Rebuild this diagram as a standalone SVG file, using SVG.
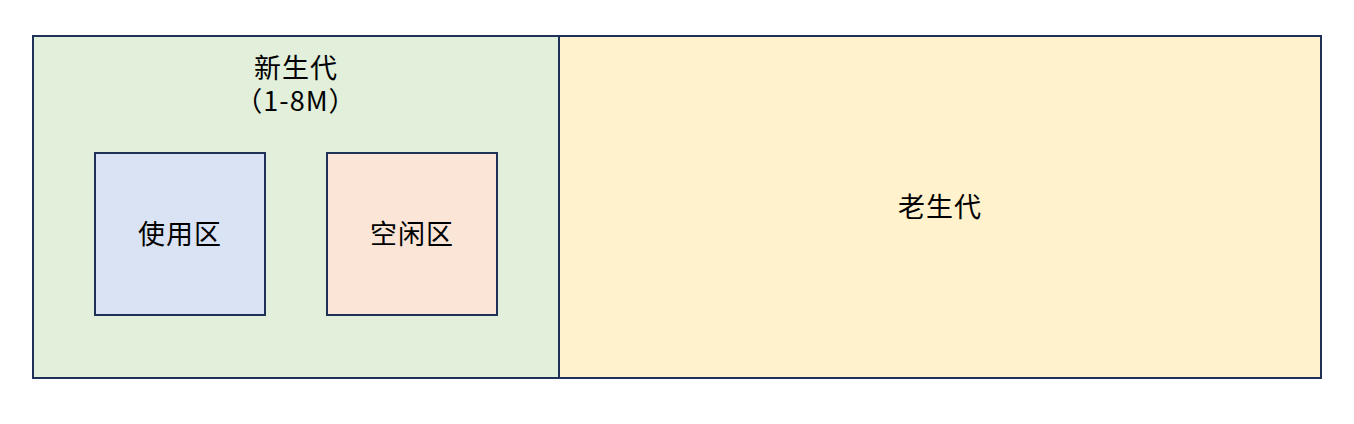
<svg xmlns="http://www.w3.org/2000/svg" width="1354" height="424" viewBox="0 0 1354 424">
<style>
.b{stroke:#1f3157;stroke-width:2}
.t{font-family:"Noto Sans CJK SC","Noto Sans",sans-serif;font-size:27px;fill:#000;text-anchor:middle;letter-spacing:1px}
</style>
<rect width="1354" height="424" fill="#fff"/>
<g id="young">
<rect class="b" x="33" y="36" width="526" height="342" fill="#e2efda"/>
<text class="t" x="296" y="78"><tspan x="296">新生代</tspan><tspan x="296" dy="33">（1-8M）</tspan></text>
</g>
<g id="old">
<rect class="b" x="559" y="36" width="762" height="342" fill="#fff2cc"/>
<text class="t" x="940" y="217">老生代</text>
</g>
<g id="used">
<rect class="b" x="95" y="153" width="170" height="162" fill="#dae3f3"/>
<text class="t" x="180" y="244">使用区</text>
</g>
<g id="free">
<rect class="b" x="327" y="153" width="170" height="162" fill="#fbe5d6"/>
<text class="t" x="412" y="244">空闲区</text>
</g>
<g id="connectors"></g>
</svg>
